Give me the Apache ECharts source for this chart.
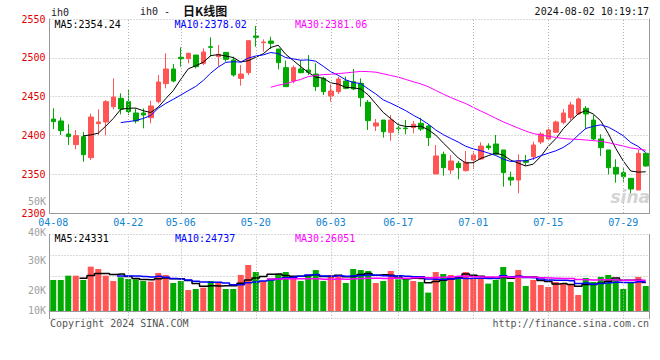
<!DOCTYPE html>
<html><head><meta charset="utf-8">
<script src="https://cdn.jsdelivr.net/npm/echarts@6/dist/echarts.min.js"></script>
<style>html,body{margin:0;padding:0;background:#fff}#c{width:660px;height:360px}</style>
</head><body><div id="c"></div>
<script>
// ---------- DATA ----------
const dates = ['04-08','04-09','04-10','04-11','04-12','04-15','04-16','04-17','04-18','04-19',
'04-22','04-23','04-24','04-25','04-26','04-29','04-30','05-06','05-07','05-08',
'05-09','05-10','05-13','05-14','05-15','05-16','05-17','05-20','05-21','05-22',
'05-23','05-24','05-27','05-28','05-29','05-30','05-31','06-03','06-04','06-05',
'06-06','06-07','06-11','06-12','06-13','06-14','06-17','06-18','06-19','06-20',
'06-21','06-24','06-25','06-26','06-27','06-28','07-01','07-02','07-03','07-04',
'07-05','07-08','07-09','07-10','07-11','07-12','07-15','07-16','07-17','07-18',
'07-19','07-22','07-23','07-24','07-25','07-26','07-29','07-30','07-31','08-01'];
const tickDates = ['04-08','04-22','05-06','05-20','06-03','06-17','07-01','07-15','07-29'];
const priceTicks = [2300, 2550, 50];   // min, max, step
const opens = [2421.1,2418.6,2401.8,2388.1,2398.4,2371.3,2415.1,2417.3,2437.0,2447.8,
2443.5,2428.9,2428.9,2422.8,2443.5,2466.7,2485.6,2500.6,2498.9,2503.6,
2492.9,2514.3,2501.5,2507.0,2497.2,2473.5,2480.8,2528.1,2519.5,2521.6,
2511.3,2487.3,2470.1,2485.6,2484.3,2479.1,2473.5,2450.8,2456.4,2470.1,
2469.2,2467.1,2442.6,2412.1,2419.8,2404.0,2409.5,2409.5,2410.0,2415.6,
2412.1,2350.3,2375.6,2355.4,2364.0,2354.6,2368.3,2369.6,2386.3,2388.9,
2381.2,2346.0,2342.5,2367.4,2372.6,2391.5,2395.4,2404.0,2416.8,2422.8,
2427.6,2434.9,2419.8,2395.4,2381.2,2358.8,2352.0,2344.7,2329.6,2376.9];
const closes = [2417.7,2406.1,2398.4,2399.7,2375.2,2423.7,2417.3,2443.5,2449.5,2434.0,
2430.6,2418.6,2426.3,2437.9,2468.8,2485.6,2470.1,2498.9,2505.8,2488.6,
2507.5,2513.5,2504.5,2498.0,2477.8,2479.1,2522.1,2526.4,2520.4,2518.6,
2493.7,2462.8,2487.3,2480.8,2481.3,2462.8,2456.4,2457.2,2472.7,2460.6,
2459.8,2448.6,2419.0,2416.0,2404.8,2419.8,2408.7,2408.7,2414.3,2408.2,
2397.1,2373.5,2358.4,2367.0,2358.4,2365.3,2374.7,2386.3,2384.2,2375.6,
2352.0,2342.5,2367.4,2365.3,2387.6,2401.8,2407.0,2417.3,2428.9,2439.2,
2446.9,2427.6,2395.4,2384.2,2358.4,2350.3,2346.8,2330.9,2376.9,2360.6];
const lows = [2408.2,2400.5,2387.6,2382.1,2366.1,2368.3,2400.5,2400.1,2433.6,2427.1,
2426.3,2415.6,2409.1,2415.6,2441.3,2460.6,2468.4,2488.6,2492.9,2486.4,
2490.7,2501.5,2488.6,2495.0,2475.7,2464.1,2477.8,2514.3,2507.9,2511.3,
2485.1,2462.8,2467.1,2480.0,2477.8,2457.2,2452.1,2443.5,2453.4,2459.4,
2458.5,2437.0,2407.0,2405.7,2397.1,2393.2,2402.7,2401.4,2402.7,2405.7,
2386.3,2350.3,2348.1,2350.3,2343.4,2353.3,2356.7,2368.3,2381.2,2374.7,
2333.9,2335.2,2325.3,2361.0,2368.3,2388.9,2395.0,2403.5,2414.3,2419.0,
2426.3,2408.2,2394.1,2373.5,2349.8,2339.1,2340.4,2321.0,2329.6,2359.7];
const highs = [2434.9,2423.3,2414.3,2407.0,2404.4,2428.0,2433.6,2445.6,2473.5,2454.2,
2459.4,2434.9,2434.9,2444.7,2477.8,2505.8,2492.0,2513.5,2506.6,2503.6,
2512.2,2526.4,2516.5,2507.0,2501.5,2490.7,2522.9,2541.0,2523.8,2527.2,
2511.3,2496.3,2489.9,2497.2,2503.6,2492.9,2475.7,2465.8,2475.7,2475.7,
2485.6,2473.5,2445.6,2421.1,2419.8,2426.3,2415.6,2419.8,2418.6,2422.8,
2414.3,2387.6,2379.0,2374.7,2367.0,2379.9,2379.9,2391.1,2389.8,2400.5,
2381.2,2353.3,2375.6,2374.7,2391.9,2404.0,2410.4,2419.0,2434.0,2443.5,
2448.6,2437.9,2426.3,2401.4,2381.2,2369.2,2357.6,2344.7,2381.2,2376.9];
const ma5 = [null,null,null,null,
2399.4,2400.6,2402.9,2411.9,2421.8,2433.6,2435.0,2435.2,2431.8,2429.5,
2436.4,2447.4,2457.7,2472.3,2485.8,2489.8,2494.2,2502.9,2504.0,2502.4,
2500.3,2494.6,2496.3,2500.7,2505.2,2513.3,2516.2,2504.4,2496.6,2488.6,
2481.2,2475.0,2473.7,2467.7,2466.1,2461.9,2461.3,2459.8,2452.1,2440.8,
2429.6,2421.6,2413.7,2411.6,2411.3,2411.9,2407.4,2400.4,2390.3,2380.8,
2370.9,2364.5,2364.8,2370.3,2373.8,2377.2,2374.6,2368.1,2364.3,2360.6,
2363.0,2372.9,2385.8,2395.8,2408.5,2418.8,2427.9,2432.0,2427.6,2418.7,
2402.5,2383.2,2367.0,2354.1,2352.7,2353.1];
const ma10 = [null,null,null,null,null,null,null,null,null,
2416.5,2417.8,2419.1,2421.8,2425.7,2435.0,2441.2,2446.5,2452.0,2457.7,
2463.1,2470.8,2480.3,2488.1,2494.1,2495.0,2494.4,2499.6,2502.3,2503.8,
2506.8,2505.4,2500.3,2498.6,2496.9,2497.3,2495.6,2489.1,2482.1,2477.4,
2471.6,2468.2,2466.8,2459.9,2453.4,2445.8,2441.5,2436.7,2431.9,2426.0,
2420.8,2414.5,2407.0,2401.0,2396.1,2391.4,2386.0,2382.6,2380.3,2377.3,
2374.1,2369.5,2366.4,2367.3,2367.2,2370.1,2373.7,2377.0,2380.1,2384.5,
2390.9,2400.4,2408.9,2411.7,2413.6,2410.7,2405.5,2399.5,2390.9,2385.7,2377.8];
const ma30 = [null,null,null,null,null,null,null,null,null,null,
null,null,null,null,null,null,null,null,null,null,
null,null,null,null,null,null,null,null,null,
2462.1,2464.7,2466.6,2469.5,2472.2,2475.8,2477.1,2478.4,2478.8,2479.6,
2480.5,2481.5,2482.5,2482.2,2481.5,2479.4,2477.2,2475.1,2472.1,2469.1,
2466.4,2462.7,2458.0,2453.2,2448.8,2444.8,2441.0,2436.1,2431.4,2426.9,
2422.1,2417.4,2413.4,2409.4,2405.6,2402.4,2400.4,2398.8,2397.4,2396.0,
2395.2,2394.8,2394.1,2393.3,2392.3,2390.7,2388.4,2386.3,2383.8,2382.5,2380.9];
const volumes = [26500,26500,30200,30200,26500,37900,35900,30200,25600,28800,
27400,27100,25600,25100,32500,30800,23900,25600,17900,18800,
19900,25600,24800,18800,18800,30800,39300,33300,25600,27900,
31600,33300,29900,25600,30800,35000,25600,30800,30800,23900,
35900,35000,34200,23900,25600,34200,27100,27100,25600,24800,
15700,33300,31600,30800,29300,33300,28200,27400,23400,26500,
37600,24800,35000,21400,26500,22200,20500,24800,23100,23100,
13700,28200,24800,29100,30800,27400,18800,24800,29100,21400];
const vma5 = [null,null,null,null,
27980,30260,32140,32140,31220,31680,29580,27820,26900,26800,
27540,28220,27580,27580,26140,23400,21220,21560,21400,21580,
21580,23760,26500,28200,29560,31380,31540,30340,29660,29660,
30240,30920,29380,29560,30600,29220,29400,31280,31960,30580,
30920,30580,29000,27580,27920,27760,24060,25300,26200,27240,
28140,31660,30640,29800,28320,27760,28620,27940,29460,29060,
29060,25980,25120,23080,23420,22740,21040,22580,22580,23780,
25360,28100,26220,26220,26220,24340];
const vma10 = [null,null,null,null,null,null,null,null,null,
29830,29920,29980,29520,29010,29610,28900,27700,27240,26470,
25470,24720,24570,24490,23860,22490,22490,24030,24800,25570,
26480,27650,28420,28930,29610,30810,31230,29860,29610,30130,
29730,30160,30330,30760,30590,30070,29990,30140,29770,29250,
29340,27320,27150,26890,27580,27950,27860,27970,28000,27780,
27950,30140,29290,29630,28690,28410,27300,26530,26270,26240,
25900,23510,23850,22830,23600,24030,24550,24380,24380,24980,24810];
const vma30 = [null,null,null,null,null,null,null,null,null,null,
null,null,null,null,null,null,null,null,null,null,
null,null,null,null,null,null,null,null,null,
27260,27430,27660,27650,27490,27640,27540,27200,27220,27390,
27230,27510,27770,28060,28020,27790,27900,28010,28060,28320,
28520,28380,28630,28860,29260,29610,29690,29320,29130,29050,
29010,29210,28920,29090,28950,28810,28380,28210,28010,27760,
27730,26990,26760,26450,26620,26800,26570,26290,26220,26330,26220];
const volAxis = [-6600, 65560, 18040]; // min, max, step
const volTickLabels = ['40K','30K','20K','10K'];
const legendMain = ['MA5:2354.24','MA10:2378.02','MA30:2381.06'];
const legendVol = ['MA5:24331','MA10:24737','MA30:26051'];
const titleParts = ['ih0 -', '日K线图'];
const symbolText = 'ih0';
const stampText = '2024-08-02 10:19:17';
const extraPriceLabel = '50K';
const footer = ['Copyright 2024 SINA.COM', 'http://finance.sina.com.cn'];

// ---------- STYLE ----------
const FONT = "'DejaVu Sans Mono', monospace";
const UP = '#ff5555', DOWN = '#00aa00';
const GRID = '#b4b4b4', AXIS = '#999';
const maColors = ['#000000', '#0000ff', '#ff00ff'];

const ohlc = dates.map((d, i) => [opens[i], closes[i], lows[i], highs[i]]);
const volData = volumes.map((v, i) => ({ value: v, itemStyle: { color: closes[i] >= opens[i] ? UP : DOWN } }));
const vLines = tickDates.slice(1).map(d => ({ xAxis: d }));

function txt(x, y, text, fill, align, font) {
  return { type: 'text', x: x, y: y, silent: true, z: 100,
    style: { text: text, fill: fill, font: font || ('10px ' + FONT), lineHeight: 10,
      align: align || 'left', verticalAlign: 'middle',
      textAlign: align || 'left', textVerticalAlign: 'middle' } };
}
const graphics = [
  txt(51, 12.5, symbolText, '#222'),
  txt(140, 11.5, titleParts[0], '#222'),
  txt(183, 10.5, titleParts[1], '#111', 'left', "bold 12px 'Noto Sans CJK SC', sans-serif"),
  txt(649, 11.5, stampText, '#111', 'right'),
  txt(46, 201, extraPriceLabel, '#a0a0a0', 'right'),
  txt(54.5, 24, legendMain[0], maColors[0]),
  txt(174.5, 24, legendMain[1], maColors[1]),
  txt(295, 24, legendMain[2], maColors[2]),
  txt(54.5, 238, legendVol[0], maColors[0]),
  txt(175, 238, legendVol[1], maColors[1]),
  txt(295, 238, legendVol[2], maColors[2]),
  txt(50, 323.7, footer[0], '#555'),
  txt(649, 323.7, footer[1], '#555', 'right'),
  txt(650, 197, 'sina', '#d4d4d4', 'right', "italic bold 17px 'DejaVu Sans', sans-serif")
];
[232, 260.5, 290.5, 310.5].forEach((y, i) => graphics.push(txt(46, y, volTickLabels[i], '#a0a0a0', 'right')));

const chart = echarts.init(document.getElementById('c'), null, { renderer: 'svg' });
chart.setOption({
  animation: false,
  backgroundColor: '#ffffff',
  grid: [
    { left: 49.5, top: 19, width: 600, height: 194 },
    { left: 49.5, top: 234.3, width: 600, height: 84.4 }
  ],
  xAxis: [
    { type: 'category', gridIndex: 0, data: dates, boundaryGap: true,
      axisLine: { show: true, lineStyle: { color: AXIS } }, axisTick: { show: false },
      axisLabel: { interval: (i, v) => tickDates.indexOf(v) >= 0, color: '#1084d0', fontSize: 10,
        fontFamily: FONT, margin: 4, lineHeight: 10 },
      splitLine: { show: false } },
    { type: 'category', gridIndex: 1, data: dates, boundaryGap: true,
      axisLine: { show: true, lineStyle: { color: AXIS } }, axisTick: { show: false },
      axisLabel: { show: false }, splitLine: { show: false } }
  ],
  yAxis: [
    { type: 'value', gridIndex: 0, min: priceTicks[0], max: priceTicks[1], interval: priceTicks[2], position: 'left',
      axisLine: { show: true, lineStyle: { color: AXIS } }, axisTick: { show: false },
      axisLabel: { color: '#e00000', fontSize: 10, fontFamily: FONT, margin: 4, padding: [0, 0, 3, 0],
        formatter: v => String(v) },
      splitLine: { show: true, lineStyle: { color: GRID, type: [1, 2], width: 1 } } },
    { type: 'value', gridIndex: 0, min: priceTicks[0], max: priceTicks[1], position: 'right',
      axisLine: { show: true, lineStyle: { color: AXIS } }, axisTick: { show: false },
      axisLabel: { show: false }, splitLine: { show: false } },
    { type: 'value', gridIndex: 1, min: volAxis[0], max: volAxis[1], interval: volAxis[2], position: 'left',
      axisLine: { show: true, lineStyle: { color: AXIS } }, axisTick: { show: false },
      axisLabel: { show: false },
      splitLine: { show: true, lineStyle: { color: GRID, type: [1, 2], width: 1 } } },
    { type: 'value', gridIndex: 1, min: volAxis[0], max: volAxis[1], position: 'right',
      axisLine: { show: true, lineStyle: { color: AXIS } }, axisTick: { show: false },
      axisLabel: { show: false }, splitLine: { show: false } }
  ],
  series: [
    { type: 'line', xAxisIndex: 0, yAxisIndex: 0, data: [], z: 1, silent: true,
      markLine: { silent: true, symbol: ['none', 'none'], label: { show: false }, animation: false,
        lineStyle: { color: GRID, type: [1, 2], width: 1 }, data: vLines } },
    { type: 'line', xAxisIndex: 1, yAxisIndex: 2, data: [], z: 1, silent: true,
      markLine: { silent: true, symbol: ['none', 'none'], label: { show: false }, animation: false,
        lineStyle: { color: GRID, type: [1, 2], width: 1 }, data: vLines } },
    { type: 'candlestick', xAxisIndex: 0, yAxisIndex: 0, data: ohlc, barWidth: 5, z: 3,
      itemStyle: { color: UP, color0: DOWN, borderColor: UP, borderColor0: DOWN, borderWidth: 1 } },
    { type: 'line', xAxisIndex: 0, yAxisIndex: 0, data: ma5, symbol: 'none', z: 4,
      lineStyle: { color: maColors[0], width: 1 } },
    { type: 'line', xAxisIndex: 0, yAxisIndex: 0, data: ma10, symbol: 'none', z: 4,
      lineStyle: { color: maColors[1], width: 1 } },
    { type: 'line', xAxisIndex: 0, yAxisIndex: 0, data: ma30, symbol: 'none', z: 4,
      lineStyle: { color: maColors[2], width: 1 } },
    { type: 'bar', xAxisIndex: 1, yAxisIndex: 2, data: volData, barWidth: 6, z: 3 },
    { type: 'line', xAxisIndex: 1, yAxisIndex: 2, data: vma5, symbol: 'none', step: 'middle', z: 4,
      lineStyle: { color: maColors[0], width: 1.5 } },
    { type: 'line', xAxisIndex: 1, yAxisIndex: 2, data: vma10, symbol: 'none', step: 'middle', z: 4,
      lineStyle: { color: maColors[1], width: 1.5 } },
    { type: 'line', xAxisIndex: 1, yAxisIndex: 2, data: vma30, symbol: 'none', step: 'middle', z: 4,
      lineStyle: { color: maColors[2], width: 1.5 } }
  ],
  graphic: graphics
});
</script></body></html>
